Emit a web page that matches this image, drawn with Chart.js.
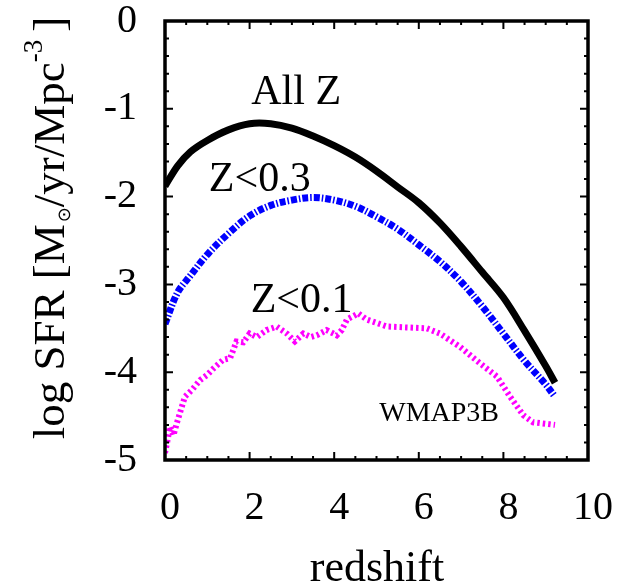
<!DOCTYPE html>
<html>
<head>
<meta charset="utf-8">
<script src="https://cdn.jsdelivr.net/npm/chart.js@4"></script>
<style>
  html, body { margin: 0; padding: 0; background: #fff; }
  #wrap { width: 617px; height: 585px; }
</style>
</head>
<body>
<div id="wrap"><canvas id="sfr" width="617" height="585"></canvas></div>
<script>
// ---- data ----
const zAll   = [0, 0.3, 0.6, 1.0, 1.5, 2.0, 2.5, 3.0, 3.5, 4.0, 4.5, 5.0, 5.5, 6.0, 6.5, 7.0, 7.5, 8.0, 8.5, 9.0, 9.22];
const sfrAll = [-1.88, -1.65, -1.49, -1.36, -1.24, -1.17, -1.17, -1.22, -1.31, -1.42, -1.55, -1.71, -1.89, -2.07, -2.30, -2.57, -2.86, -3.15, -3.53, -3.93, -4.12];

const z03    = [0, 0.3, 0.6, 1.0, 1.5, 2.0, 2.5, 3.0, 3.5, 4.0, 4.5, 5.0, 5.5, 6.0, 6.5, 7.0, 7.5, 8.0, 8.5, 9.0, 9.22];
const sfr03  = [-3.45, -3.09, -2.90, -2.66, -2.42, -2.22, -2.10, -2.04, -2.01, -2.04, -2.11, -2.23, -2.37, -2.55, -2.74, -2.97, -3.25, -3.56, -3.87, -4.14, -4.28];

const z01    = [0, 0.05, 0.12, 0.2, 0.28, 0.47, 0.64, 0.83, 1.0, 1.14, 1.37, 1.54, 1.69, 1.85, 2.0, 2.17, 2.4, 2.64, 2.88, 3.07, 3.27, 3.45, 3.59, 3.82, 4.06, 4.18, 4.3, 4.57, 4.77, 5.25, 5.7, 6.19, 6.5, 6.97, 7.45, 7.85, 8.16, 8.47, 8.7, 9.22];
const sfr01  = [-4.92, -4.8, -4.62, -4.72, -4.58, -4.28, -4.2, -4.09, -4.03, -3.96, -3.86, -3.84, -3.65, -3.66, -3.56, -3.6, -3.52, -3.48, -3.56, -3.65, -3.56, -3.6, -3.58, -3.52, -3.58, -3.52, -3.4, -3.33, -3.4, -3.48, -3.49, -3.5, -3.56, -3.71, -3.9, -4.05, -4.28, -4.49, -4.57, -4.6];

const xTicks = [0, 2, 4, 6, 8, 10];
const yTicks = [0, -1, -2, -3, -4, -5];

// curve annotations (data coordinates)
const curveLabels = [
  { text: 'All Z',  x: 3.1,  y: -0.82 },
  { text: 'Z<0.3',  x: 2.24, y: -1.81 },
  { text: 'Z<0.1',  x: 3.23, y: -3.19 },
  { text: 'WMAP3B', x: 6.48, y: -4.47, small: true },
];

const SERIF = '"Liberation Serif", "Times New Roman", serif';
const pts = (xs, ys) => xs.map((x, i) => ({ x, y: ys[i] }));
const noPad = s => { s.paddingTop = 0; s.paddingBottom = 0; s.paddingLeft = 0; s.paddingRight = 0; };

// ---- plugins ----
const frameTicks = {
  id: 'frameTicks',
  afterDatasetsDraw(chart) {
    const { ctx, chartArea: a, scales: { x, y } } = chart;
    ctx.save();
    ctx.strokeStyle = '#000';
    ctx.lineWidth = 2;
    ctx.beginPath();
    for (let i = 0; i <= 20; i++) {
      const px = x.getPixelForValue(i * 0.5);
      const len = i % 4 === 0 ? 8 : 4;
      ctx.moveTo(px, a.bottom); ctx.lineTo(px, a.bottom - len);
      ctx.moveTo(px, a.top);    ctx.lineTo(px, a.top + len);
    }
    for (let i = 0; i <= 25; i++) {
      const py = y.getPixelForValue(-i * 0.2);
      const len = i % 5 === 0 ? 8 : 4;
      ctx.moveTo(a.left, py);  ctx.lineTo(a.left + len, py);
      ctx.moveTo(a.right, py); ctx.lineTo(a.right - len, py);
    }
    ctx.stroke();
    ctx.lineWidth = 3.5;
    ctx.strokeRect(a.left, a.top, a.right - a.left, a.bottom - a.top);
    ctx.restore();
  }
};

const textLayer = {
  id: 'textLayer',
  afterDraw(chart) {
    const { ctx, scales: { x, y } } = chart;
    ctx.save();
    ctx.fillStyle = '#000';
    ctx.textAlign = 'center';
    ctx.textBaseline = 'middle';
    curveLabels.forEach(l => {
      ctx.font = (l.small ? '28px ' : '42px ') + SERIF;
      ctx.fillText(l.text, x.getPixelForValue(l.x), y.getPixelForValue(l.y));
    });

    // x title
    ctx.font = '44px ' + SERIF;
    ctx.textBaseline = 'alphabetic';
    ctx.fillText('redshift', 377, 581);

    // y title with sub/superscripts
    const big = '45px ' + SERIF, sm = '27px ' + SERIF;
    const segs = [
      { t: 'log SFR [M', f: big, dy: 0 },
      { t: '\u2299', f: '18px "DejaVu Sans"', dy: 6, pad: 2 },
      { t: '/yr/Mpc', f: big, dy: 0 },
      { t: '-3', f: sm, dy: -22 },
      { t: ']', f: big, dy: 0, pad: 8 },
    ];
    let total = 0;
    segs.forEach(s => { ctx.font = s.f; s.w = ctx.measureText(s.t).width + (s.pad || 0); total += s.w; });
    ctx.translate(64, 228);
    ctx.rotate(-Math.PI / 2);
    ctx.textAlign = 'left';
    let cx = -total / 2;
    segs.forEach(s => {
      ctx.font = s.f;
      ctx.fillText(s.t, cx + (s.pad || 0), s.dy);
      cx += s.w;
    });
    ctx.restore();
  }
};

// ---- chart ----
const ctx = document.getElementById('sfr').getContext('2d');
new Chart(ctx, {
  type: 'scatter',
  data: {
    datasets: [
      { label: 'All Z', data: pts(zAll, sfrAll), showLine: true, borderColor: '#000000', borderWidth: 7, pointRadius: 0, tension: 0.35 },
      { label: 'Z<0.3', data: pts(z03, sfr03), showLine: true, borderColor: '#0000ff', borderWidth: 7, borderDash: [6, 2, 1.5, 2], pointRadius: 0, tension: 0.35 },
      { label: 'Z<0.1', data: pts(z01, sfr01), showLine: true, borderColor: '#ff00ff', borderWidth: 6, borderDash: [2.5, 3], pointRadius: 0, tension: 0 },
    ],
  },
  options: {
    responsive: false,
    animation: false,
    layout: { padding: { top: 21, right: 29, left: 0, bottom: 0 } },
    plugins: { legend: { display: false }, tooltip: { enabled: false } },
    scales: {
      x: {
        type: 'linear', min: 0, max: 10,
        afterFit: s => { s.height = 125; noPad(s); },
        afterBuildTicks: s => { s.ticks = xTicks.map(v => ({ value: v })); },
        grid: { display: false },
        border: { display: false },
        ticks: { color: '#000', font: { family: SERIF, size: 40 }, padding: 16, labelOffset: 5, maxRotation: 0 },
      },
      y: {
        type: 'linear', min: -5, max: 0,
        afterFit: s => { s.width = 165; noPad(s); },
        afterBuildTicks: s => { s.ticks = yTicks.map(v => ({ value: v })); },
        grid: { display: false },
        border: { display: false },
        ticks: { color: '#000', font: { family: SERIF, size: 40 }, padding: 20 },
      },
    },
  },
  plugins: [frameTicks, textLayer],
});
</script>
</body>
</html>
